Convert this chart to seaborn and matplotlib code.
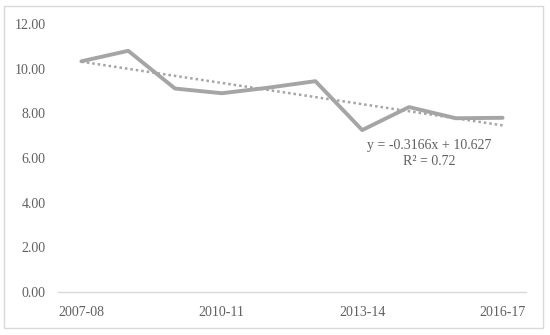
import numpy as np
import pandas as pd
import matplotlib
matplotlib.use("Agg")
import matplotlib.pyplot as plt
import seaborn as sns
from matplotlib.patches import Rectangle

# data
years = ["2007-08", "2008-09", "2009-10", "2010-11", "2011-12",
         "2012-13", "2013-14", "2014-15", "2015-16", "2016-17"]
values = [10.33, 10.80, 9.11, 8.90, 9.15, 9.44, 7.25, 8.28, 7.78, 7.80]
shown_labels = ["2007-08", "2010-11", "2013-14", "2016-17"]
slope, intercept = -0.3166, 10.627

df = pd.DataFrame({"year": years, "value": values, "idx": np.arange(len(years))})
df["trend"] = slope * (df["idx"] + 1) + intercept

sns.set_style("white")
plt.rcParams["font.family"] = ["Liberation Serif", "DejaVu Serif"]
text_color = "#606060"

fig = plt.figure(figsize=(5.5, 3.35), dpi=100)
ax = fig.add_axes([58 / 550, 1 - 292 / 335, 468 / 550, 268 / 335])

sns.lineplot(data=df, x="idx", y="trend", ax=ax, color="#a5a5a5",
             linewidth=1.8, linestyle=(0, (1, 1.2)))
sns.lineplot(data=df, x="idx", y="value", ax=ax, color="#a5a5a5",
             linewidth=2.8)

ax.set_xlim(-0.5, len(years) - 0.5)
ax.set_ylim(0, 12)
ax.set_yticks(np.arange(0, 13, 2))
ax.set_yticklabels([f"{v:.2f}" for v in np.arange(0, 13, 2)])
pos = [years.index(s) for s in shown_labels]
ax.set_xticks(pos)
ax.set_xticklabels(shown_labels)
ax.tick_params(axis="both", length=0, labelsize=10, colors=text_color)
ax.tick_params(axis="x", pad=10)
ax.tick_params(axis="y", pad=9)
ax.set_xlabel("")
ax.set_ylabel("")
for side in ["top", "right", "left"]:
    ax.spines[side].set_visible(False)
ax.spines["bottom"].set_color("#d9d9d9")
ax.spines["bottom"].set_linewidth(1)

ax.text(7.43, 6.2, f"y = {slope}x + {intercept}\nR² = 0.72", ha="center",
        va="center", fontsize=10, color=text_color, linespacing=1.3)

fig.patches.append(Rectangle((4 / 550, 1 - 328 / 335), 539 / 550, 322 / 335,
                             transform=fig.transFigure, fill=False,
                             edgecolor="#d9d9d9", linewidth=1))

fig.savefig("out.png", dpi=100)
plt.close(fig)
